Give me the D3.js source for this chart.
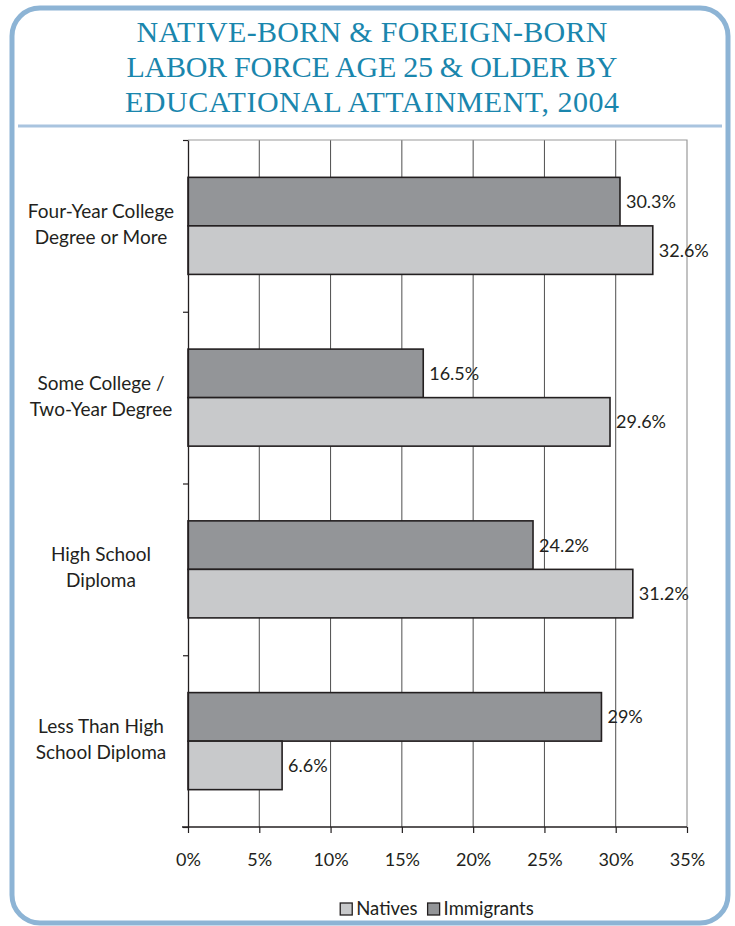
<!DOCTYPE html>
<html lang="en">
<head>
    <meta charset="UTF-8">
    <title>Native-Born & Foreign-Born Labor Force by Educational Attainment, 2004</title>
    <script src="https://d3js.org/d3.v7.min.js"></script>
    <style>
        body {
            margin: 0;
            background: #fff;
        }
        svg {
            display: block;
        }
        .lbl {
            font-family: Lato, "Open Sans", sans-serif;
            font-size: 18px;
            fill: #231f20;
        }
        .cat {
            font-size: 19px;
        }
        .leg {
            font-size: 18.5px;
        }
        .title {
            font-family: "Liberation Serif", "DejaVu Serif", serif;
            font-size: 30px;
            fill: #1a86ad;
        }
    </style>
</head>
<body>
    <svg width="735" height="926"></svg>
    <script>
        // data
        const titleLines = ["NATIVE-BORN & FOREIGN-BORN", "LABOR FORCE AGE 25 & OLDER BY", "EDUCATIONAL ATTAINMENT, 2004"];
        const categories = [
            ["Four-Year College", "Degree or More"],
            ["Some College /", "Two-Year Degree"],
            ["High School", "Diploma"],
            ["Less Than High", "School Diploma"]
        ];
        const series = ["Immigrants", "Natives"];
        const immigrants = [30.3, 16.5, 24.2, 29];
        const natives = [32.6, 29.6, 31.2, 6.6];
        const valueLabels = {Immigrants: ["30.3%", "16.5%", "24.2%", "29%"], Natives: ["32.6%", "29.6%", "31.2%", "6.6%"]};
        const xTicks = [0, 5, 10, 15, 20, 25, 30, 35];
        const legendOrder = ["Natives", "Immigrants"];

        const svg = d3.select("svg");
        const colors = {Immigrants: "#939598", Natives: "#c8c9cb"};

        // rounded frame
        svg.append("rect")
            .attr("x", 12).attr("y", 8)
            .attr("width", 716).attr("height", 915)
            .attr("rx", 28).attr("ry", 28)
            .attr("fill", "none")
            .attr("stroke", "#8db4d5")
            .attr("stroke-width", 5);

        // title, stretched a little to the width of the original lettering
        const titleWidths = [471, 491, 494];
        svg.append("g").selectAll("text")
            .data(titleLines)
            .join("text")
            .attr("class", "title")
            .attr("x", 372)
            .attr("y", (d, i) => 42 + i * 35)
            .attr("text-anchor", "middle")
            .attr("textLength", (d, i) => titleWidths[i])
            .attr("lengthAdjust", "spacing")
            .text(d => d);

        svg.append("line")
            .attr("x1", 18).attr("x2", 722)
            .attr("y1", 126).attr("y2", 126)
            .attr("stroke", "#a9c4df")
            .attr("stroke-width", 3);

        // plot area
        const pLeft = 188, pRight = 687, pTop = 140, pBottom = 827;
        const x = d3.scaleLinear().domain([0, 35]).range([pLeft, pRight]);
        const y = d3.scaleBand().domain(d3.range(categories.length)).range([pTop, pBottom])
            .paddingInner(0.435).paddingOuter(0.2175);
        const ySub = d3.scaleBand().domain(series).range([0, y.bandwidth()]);
        const yEdge = d3.scaleLinear().domain([0, categories.length]).range([pTop, pBottom]);

        // gridlines
        svg.append("g").selectAll("line")
            .data(xTicks.slice(1, -1))
            .join("line")
            .attr("x1", d => x(d)).attr("x2", d => x(d))
            .attr("y1", pTop).attr("y2", pBottom)
            .attr("stroke", "#3a3a3a")
            .attr("stroke-width", 0.9);

        // plot border top/right
        svg.append("path")
            .attr("d", `M${pLeft},${pTop}H${pRight}V${pBottom}`)
            .attr("fill", "none")
            .attr("stroke", "#9a9a9a")
            .attr("stroke-width", 1.2);

        const rows = categories.map((c, i) => ({i, Immigrants: immigrants[i], Natives: natives[i]}));

        const grp = svg.append("g").selectAll("g")
            .data(rows)
            .join("g")
            .attr("transform", d => `translate(0,${y(d.i)})`);

        grp.selectAll("rect")
            .data(d => series.map(s => ({s, v: d[s], i: d.i})))
            .join("rect")
            .attr("x", x(0))
            .attr("y", d => ySub(d.s))
            .attr("width", d => x(d.v) - x(0))
            .attr("height", ySub.bandwidth())
            .attr("fill", d => colors[d.s])
            .attr("stroke", "#231f20")
            .attr("stroke-width", 1.6);

        grp.selectAll("text")
            .data(d => series.map(s => ({s, v: d[s], i: d.i})))
            .join("text")
            .attr("class", "lbl")
            .attr("x", d => x(d.v) + 6)
            .attr("y", d => ySub(d.s) + ySub.bandwidth() / 2 + 6.5)
            .text(d => valueLabels[d.s][d.i]);

        // x axis
        const xAxis = svg.append("g")
            .attr("transform", `translate(0,${pBottom})`)
            .call(d3.axisBottom(x).tickValues(xTicks).tickSize(6).tickSizeOuter(0).tickFormat(d => d + "%"));
        xAxis.select(".domain").attr("d", `M${pLeft - 6},0H${pRight}`).attr("stroke", "#231f20").attr("stroke-width", 1.3);
        xAxis.selectAll(".tick line").attr("stroke", "#231f20").attr("stroke-width", 1.2);
        xAxis.selectAll(".tick text").attr("class", "lbl").attr("y", 33).attr("dy", "0.32em");

        // y axis (ticks at category boundaries)
        const yAxis = svg.append("g")
            .attr("transform", `translate(${pLeft},0)`)
            .call(d3.axisLeft(yEdge).ticks(categories.length).tickSize(5).tickSizeOuter(0).tickFormat(""));
        yAxis.select(".domain").attr("stroke", "#231f20").attr("stroke-width", 1.3);
        yAxis.selectAll(".tick line").attr("stroke", "#231f20").attr("stroke-width", 1.2);

        // category labels
        svg.append("g").selectAll("text")
            .data(categories)
            .join("text")
            .attr("class", "lbl cat")
            .attr("text-anchor", "middle")
            .attr("x", 101)
            .attr("y", (d, i) => y(i) + y.bandwidth() / 2 - 8)
            .selectAll("tspan")
            .data(d => d)
            .join("tspan")
            .attr("x", 101)
            .attr("dy", (d, j) => j === 0 ? 0 : 26)
            .text(d => d);

        // legend
        const legend = svg.append("g");
        let lx = 0;
        const items = legend.selectAll("g")
            .data(legendOrder)
            .join("g");
        items.append("rect")
            .attr("y", -12).attr("width", 12).attr("height", 12)
            .attr("fill", d => colors[d])
            .attr("stroke", "#231f20")
            .attr("stroke-width", 1.3);
        items.append("text")
            .attr("class", "lbl leg")
            .attr("x", 16)
            .text(d => d);
        items.each(function() {
            d3.select(this).attr("transform", `translate(${lx},0)`);
            lx += 16 + d3.select(this).select("text").node().getComputedTextLength() + 10;
        });
        const lw = lx - 10;
        legend.attr("transform", `translate(${437 - lw / 2},915)`);
    </script>
</body>
</html>
